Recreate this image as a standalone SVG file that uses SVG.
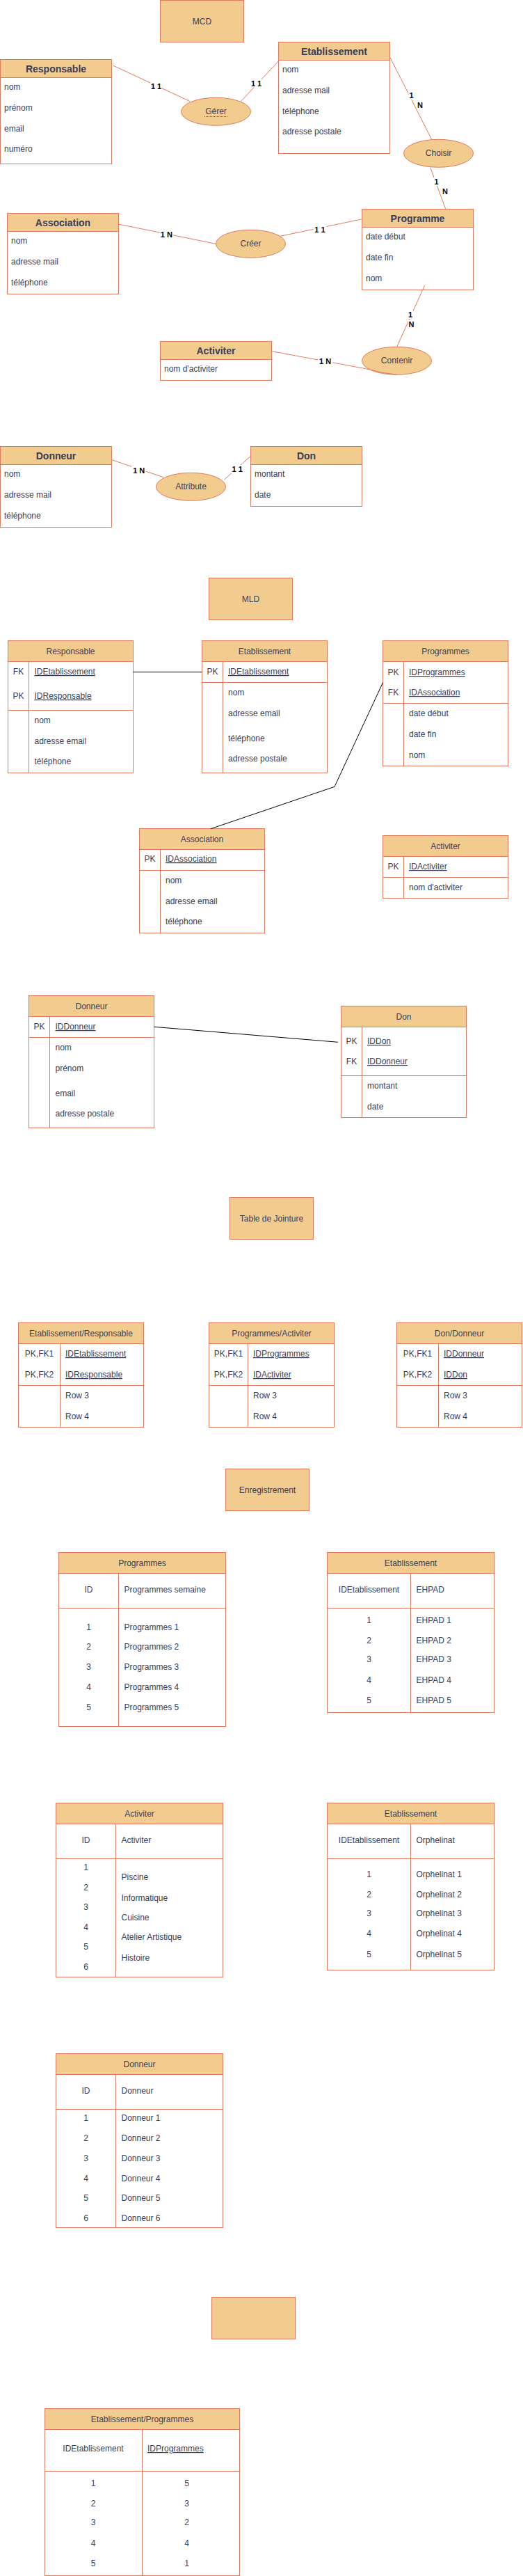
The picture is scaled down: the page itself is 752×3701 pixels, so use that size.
<svg xmlns="http://www.w3.org/2000/svg" width="752" height="3701" viewBox="0 0 752 3701">
<style>
text{font-family:"Liberation Sans",Arial,Helvetica,sans-serif;font-size:12px;fill:#393C56}
.hd{fill:#F2CC8F;stroke:#E07A5F;stroke-width:1}
.bd{fill:#FFFFFF;stroke:#E07A5F;stroke-width:1}
.ln{fill:none;stroke:#E07A5F;stroke-width:1}
.el{fill:#F2CC8F;stroke:#E07A5F;stroke-width:1}
.t14{font-size:14px;font-weight:bold}
.c{text-anchor:middle}
.u{text-decoration:underline}
.edge{fill:none;stroke:#E07A5F;stroke-width:1}
.blk{fill:none;stroke:#000000;stroke-width:1}
.lbg{fill:#FFFFFF}
.lb{font-size:11px;font-weight:bold;fill:#000000;text-anchor:middle}
</style>
<rect x="0" y="0" width="752" height="3701" fill="#FFFFFF"/>

<!-- ===== MCD ===== -->
<g id="title-mcd"><rect class="hd" x="230.5" y="0.5" width="120" height="60"/><text class="c" x="290.5" y="35">MCD</text></g>

<g id="mcd-responsable">
<rect class="bd" x="0.5" y="85.5" width="160" height="150"/>
<rect class="hd" x="0.5" y="85.5" width="160" height="26"/>
<text class="t14 c" x="80.5" y="104">Responsable</text>
<text x="6" y="129">nom</text><text x="6" y="159">prénom</text><text x="6" y="189">email</text><text x="6" y="218">numéro</text>
</g>

<g id="mcd-etablissement">
<rect class="bd" x="400.5" y="60.5" width="160" height="160"/>
<rect class="hd" x="400.5" y="60.5" width="160" height="26"/>
<text class="t14 c" x="480.5" y="79">Etablissement</text>
<text x="406" y="104">nom</text><text x="406" y="134">adresse mail</text><text x="406" y="164">téléphone</text><text x="406" y="193">adresse postale</text>
</g>

<g id="mcd-gerer"><ellipse class="el" cx="310.5" cy="160.3" rx="50" ry="20"/><text class="c" x="310.5" y="164">Gérer</text><line x1="294" y1="167.5" x2="327" y2="167.5" stroke="#393C56" stroke-width="0.8" stroke-dasharray="1,1"/></g>
<g id="mcd-choisir"><ellipse class="el" cx="630.5" cy="220.3" rx="50" ry="20"/><text class="c" x="630.5" y="224">Choisir</text></g>

<g id="mcd-programme">
<rect class="bd" x="520.5" y="300.5" width="160" height="116"/>
<rect class="hd" x="520.5" y="300.5" width="160" height="26"/>
<text class="t14 c" x="600.5" y="318.5">Programme</text>
<text x="526" y="344">date début</text><text x="526" y="374">date fin</text><text x="526" y="404">nom</text>
</g>

<g id="mcd-association">
<rect class="bd" x="10.5" y="306.5" width="160" height="116"/>
<rect class="hd" x="10.5" y="306.5" width="160" height="26"/>
<text class="t14 c" x="90.5" y="325">Association</text>
<text x="16" y="350">nom</text><text x="16" y="380">adresse mail</text><text x="16" y="410">téléphone</text>
</g>

<g id="mcd-creer"><ellipse class="el" cx="360.5" cy="350.3" rx="50" ry="20"/><text class="c" x="360.5" y="354">Créer</text></g>
<g id="mcd-contenir"><ellipse class="el" cx="570.5" cy="518.3" rx="50" ry="20"/><text class="c" x="570.5" y="522.3">Contenir</text></g>

<g id="mcd-activiter">
<rect class="bd" x="230.5" y="490.5" width="160" height="56"/>
<rect class="hd" x="230.5" y="490.5" width="160" height="26"/>
<text class="t14 c" x="310.5" y="509">Activiter</text>
<text x="236" y="534">nom d'activiter</text>
</g>

<g id="mcd-donneur">
<rect class="bd" x="0.5" y="641.5" width="160" height="116"/>
<rect class="hd" x="0.5" y="641.5" width="160" height="26"/>
<text class="t14 c" x="80.5" y="660">Donneur</text>
<text x="6" y="685">nom</text><text x="6" y="715">adresse mail</text><text x="6" y="745">téléphone</text>
</g>

<g id="mcd-don">
<rect class="bd" x="360.5" y="641.5" width="160" height="86"/>
<rect class="hd" x="360.5" y="641.5" width="160" height="26"/>
<text class="t14 c" x="440.5" y="660">Don</text>
<text x="366" y="685">montant</text><text x="366" y="715">date</text>
</g>

<g id="mcd-attribute"><ellipse class="el" cx="274.5" cy="699.3" rx="50" ry="20"/><text class="c" x="274.5" y="703">Attribute</text></g>

<!-- ===== MLD ===== -->
<g id="title-mld"><rect class="hd" x="300.5" y="830.5" width="120" height="60"/><text class="c" x="360.5" y="865">MLD</text></g>

<g id="mld-responsable">
<rect class="bd" x="11.5" y="920.5" width="180" height="190"/>
<rect class="hd" x="11.5" y="920.5" width="180" height="30"/>
<line class="ln" x1="11.5" y1="1020.5" x2="191.5" y2="1020.5"/><line class="ln" x1="41.5" y1="950.5" x2="41.5" y2="1110.5"/>
<text class="c" x="101.5" y="939.5">Responsable</text>
<text class="c" x="26.5" y="969">FK</text><text class="u" x="49.5" y="969">IDEtablissement</text>
<text class="c" x="26.5" y="1004">PK</text><text class="u" x="49.5" y="1004">IDResponsable</text>
<text x="49.5" y="1039">nom</text><text x="49.5" y="1069">adresse email</text><text x="49.5" y="1098">téléphone</text>
</g>

<g id="mld-etablissement">
<rect class="bd" x="290.5" y="920.5" width="180" height="190"/>
<rect class="hd" x="290.5" y="920.5" width="180" height="30"/>
<line class="ln" x1="290.5" y1="980.5" x2="470.5" y2="980.5"/><line class="ln" x1="320.5" y1="950.5" x2="320.5" y2="1110.5"/>
<text class="c" x="380.5" y="939.5">Etablissement</text>
<text class="c" x="305.5" y="969">PK</text><text class="u" x="328" y="969">IDEtablissement</text>
<text x="328" y="999">nom</text><text x="328" y="1029">adresse email</text><text x="328" y="1065">téléphone</text><text x="328" y="1094">adresse postale</text>
</g>

<g id="mld-programmes">
<rect class="bd" x="550.5" y="920.5" width="180" height="180"/>
<rect class="hd" x="550.5" y="920.5" width="180" height="30"/>
<line class="ln" x1="550.5" y1="1010.5" x2="730.5" y2="1010.5"/><line class="ln" x1="580.5" y1="950.5" x2="580.5" y2="1100.5"/>
<text class="c" x="640.5" y="939.5">Programmes</text>
<text class="c" x="565.5" y="970">PK</text><text class="u" x="588" y="970">IDProgrammes</text>
<text class="c" x="565.5" y="999">FK</text><text class="u" x="588" y="999">IDAssociation</text>
<text x="588" y="1029">date début</text><text x="588" y="1059">date fin</text><text x="588" y="1089">nom</text>
</g>

<g id="mld-association">
<rect class="bd" x="200.5" y="1190.5" width="180" height="150"/>
<rect class="hd" x="200.5" y="1190.5" width="180" height="30"/>
<line class="ln" x1="200.5" y1="1250.5" x2="380.5" y2="1250.5"/><line class="ln" x1="230.5" y1="1220.5" x2="230.5" y2="1340.5"/>
<text class="c" x="290.5" y="1209.5">Association</text>
<text class="c" x="215.5" y="1238">PK</text><text class="u" x="238" y="1238">IDAssociation</text>
<text x="238" y="1269">nom</text><text x="238" y="1299">adresse email</text><text x="238" y="1328">téléphone</text>
</g>

<g id="mld-activiter">
<rect class="bd" x="550.5" y="1200.5" width="180" height="90"/>
<rect class="hd" x="550.5" y="1200.5" width="180" height="30"/>
<line class="ln" x1="550.5" y1="1260.5" x2="730.5" y2="1260.5"/><line class="ln" x1="580.5" y1="1230.5" x2="580.5" y2="1290.5"/>
<text class="c" x="640.5" y="1219.5">Activiter</text>
<text class="c" x="565.5" y="1249">PK</text><text class="u" x="588" y="1249">IDActiviter</text>
<text x="588" y="1279">nom d'activiter</text>
</g>

<g id="mld-donneur">
<rect class="bd" x="41.5" y="1430.5" width="180" height="190"/>
<rect class="hd" x="41.5" y="1430.5" width="180" height="30"/>
<line class="ln" x1="41.5" y1="1490.5" x2="221.5" y2="1490.5"/><line class="ln" x1="71.5" y1="1460.5" x2="71.5" y2="1620.5"/>
<text class="c" x="131.5" y="1449.5">Donneur</text>
<text class="c" x="56.5" y="1479">PK</text><text class="u" x="79.5" y="1479">IDDonneur</text>
<text x="79.5" y="1509">nom</text><text x="79.5" y="1539">prénom</text><text x="79.5" y="1575">email</text><text x="79.5" y="1604">adresse postale</text>
</g>

<g id="mld-don">
<rect class="bd" x="490.5" y="1445.5" width="180" height="160"/>
<rect class="hd" x="490.5" y="1445.5" width="180" height="30"/>
<line class="ln" x1="490.5" y1="1545.5" x2="670.5" y2="1545.5"/><line class="ln" x1="520.5" y1="1475.5" x2="520.5" y2="1605.5"/>
<text class="c" x="580.5" y="1464.5">Don</text>
<text class="c" x="505.5" y="1500">PK</text><text class="u" x="528" y="1500">IDDon</text>
<text class="c" x="505.5" y="1529">FK</text><text class="u" x="528" y="1529">IDDonneur</text>
<text x="528" y="1564">montant</text><text x="528" y="1594">date</text>
</g>

<!-- ===== Tables de jointure ===== -->
<g id="title-jointure"><rect class="hd" x="330.5" y="1720.5" width="120" height="60"/><text class="c" x="390.5" y="1755">Table de Jointure</text></g>

<g id="jt-etab-resp">
<rect class="bd" x="26.5" y="1900.5" width="180" height="150"/>
<rect class="hd" x="26.5" y="1900.5" width="180" height="30"/>
<line class="ln" x1="26.5" y1="1990.5" x2="206.5" y2="1990.5"/><line class="ln" x1="86.5" y1="1930.5" x2="86.5" y2="2050.5"/>
<text class="c" x="116.5" y="1919.5">Etablissement/Responsable</text>
<text class="c" x="56.5" y="1949">PK,FK1</text><text class="u" x="94" y="1949">IDEtablissement</text>
<text class="c" x="56.5" y="1979">PK,FK2</text><text class="u" x="94" y="1979">IDResponsable</text>
<text x="94" y="2009">Row 3</text><text x="94" y="2039">Row 4</text>
</g>

<g id="jt-prog-act">
<rect class="bd" x="300.5" y="1900.5" width="180" height="150"/>
<rect class="hd" x="300.5" y="1900.5" width="180" height="30"/>
<line class="ln" x1="300.5" y1="1990.5" x2="480.5" y2="1990.5"/><line class="ln" x1="356.5" y1="1930.5" x2="356.5" y2="2050.5"/>
<text class="c" x="390.5" y="1919.5">Programmes/Activiter</text>
<text class="c" x="328.5" y="1949">PK,FK1</text><text class="u" x="364" y="1949">IDProgrammes</text>
<text class="c" x="328.5" y="1979">PK,FK2</text><text class="u" x="364" y="1979">IDActiviter</text>
<text x="364" y="2009">Row 3</text><text x="364" y="2039">Row 4</text>
</g>

<g id="jt-don-donneur">
<rect class="bd" x="570.5" y="1900.5" width="180" height="150"/>
<rect class="hd" x="570.5" y="1900.5" width="180" height="30"/>
<line class="ln" x1="570.5" y1="1990.5" x2="750.5" y2="1990.5"/><line class="ln" x1="630.5" y1="1930.5" x2="630.5" y2="2050.5"/>
<text class="c" x="660.5" y="1919.5">Don/Donneur</text>
<text class="c" x="600.5" y="1949">PK,FK1</text><text class="u" x="638" y="1949">IDDonneur</text>
<text class="c" x="600.5" y="1979">PK,FK2</text><text class="u" x="638" y="1979">IDDon</text>
<text x="638" y="2009">Row 3</text><text x="638" y="2039">Row 4</text>
</g>

<!-- ===== Enregistrement ===== -->
<g id="title-enregistrement"><rect class="hd" x="324.5" y="2110.5" width="120" height="60"/><text class="c" x="384.5" y="2145">Enregistrement</text></g>

<g id="data-programmes">
<rect class="bd" x="84.5" y="2230.5" width="240" height="250"/>
<rect class="hd" x="84.5" y="2230.5" width="240" height="30"/>
<line class="ln" x1="84.5" y1="2310.5" x2="324.5" y2="2310.5"/><line class="ln" x1="170.5" y1="2260.5" x2="170.5" y2="2480.5"/>
<text class="c" x="204.5" y="2249.5">Programmes</text>
<text class="c" x="127.5" y="2288">ID</text><text x="178.5" y="2288">Programmes semaine</text>
<text class="c" x="127.5" y="2342">1</text><text x="178.5" y="2342">Programmes 1</text>
<text class="c" x="127.5" y="2370">2</text><text x="178.5" y="2370">Programmes 2</text>
<text class="c" x="127.5" y="2399">3</text><text x="178.5" y="2399">Programmes 3</text>
<text class="c" x="127.5" y="2428">4</text><text x="178.5" y="2428">Programmes 4</text>
<text class="c" x="127.5" y="2457">5</text><text x="178.5" y="2457">Programmes 5</text>
</g>

<g id="data-etab-ehpad">
<rect class="bd" x="470.5" y="2230.5" width="240" height="230"/>
<rect class="hd" x="470.5" y="2230.5" width="240" height="30"/>
<line class="ln" x1="470.5" y1="2310.5" x2="710.5" y2="2310.5"/><line class="ln" x1="590.5" y1="2260.5" x2="590.5" y2="2460.5"/>
<text class="c" x="590.5" y="2249.5">Etablissement</text>
<text class="c" x="530.5" y="2288">IDEtablissement</text><text x="598.5" y="2288">EHPAD</text>
<text class="c" x="530.5" y="2332">1</text><text x="598.5" y="2332">EHPAD 1</text>
<text class="c" x="530.5" y="2361">2</text><text x="598.5" y="2361">EHPAD 2</text>
<text class="c" x="530.5" y="2388">3</text><text x="598.5" y="2388">EHPAD 3</text>
<text class="c" x="530.5" y="2418">4</text><text x="598.5" y="2418">EHPAD 4</text>
<text class="c" x="530.5" y="2447">5</text><text x="598.5" y="2447">EHPAD 5</text>
</g>

<g id="data-activiter">
<rect class="bd" x="80.5" y="2590.5" width="240" height="250"/>
<rect class="hd" x="80.5" y="2590.5" width="240" height="30"/>
<line class="ln" x1="80.5" y1="2670.5" x2="320.5" y2="2670.5"/><line class="ln" x1="166.5" y1="2620.5" x2="166.5" y2="2840.5"/>
<text class="c" x="200.5" y="2609.5">Activiter</text>
<text class="c" x="123.5" y="2648">ID</text><text x="174.5" y="2648">Activiter</text>
<text class="c" x="123.5" y="2687">1</text><text class="c" x="123.5" y="2716">2</text><text class="c" x="123.5" y="2744">3</text>
<text class="c" x="123.5" y="2773">4</text><text class="c" x="123.5" y="2801">5</text><text class="c" x="123.5" y="2830">6</text>
<text x="174.5" y="2701">Piscine</text><text x="174.5" y="2731">Informatique</text><text x="174.5" y="2759">Cuisine</text>
<text x="174.5" y="2787">Atelier Artistique</text><text x="174.5" y="2817">Histoire</text>
</g>

<g id="data-etab-orphelinat">
<rect class="bd" x="470.5" y="2590.5" width="240" height="240"/>
<rect class="hd" x="470.5" y="2590.5" width="240" height="30"/>
<line class="ln" x1="470.5" y1="2670.5" x2="710.5" y2="2670.5"/><line class="ln" x1="590.5" y1="2620.5" x2="590.5" y2="2830.5"/>
<text class="c" x="590.5" y="2609.5">Etablissement</text>
<text class="c" x="530.5" y="2648">IDEtablissement</text><text x="598.5" y="2648">Orphelinat</text>
<text class="c" x="530.5" y="2697">1</text><text x="598.5" y="2697">Orphelinat 1</text>
<text class="c" x="530.5" y="2726">2</text><text x="598.5" y="2726">Orphelinat 2</text>
<text class="c" x="530.5" y="2753">3</text><text x="598.5" y="2753">Orphelinat 3</text>
<text class="c" x="530.5" y="2782">4</text><text x="598.5" y="2782">Orphelinat 4</text>
<text class="c" x="530.5" y="2812">5</text><text x="598.5" y="2812">Orphelinat 5</text>
</g>

<g id="data-donneur">
<rect class="bd" x="80.5" y="2950.5" width="240" height="250"/>
<rect class="hd" x="80.5" y="2950.5" width="240" height="30"/>
<line class="ln" x1="80.5" y1="3030.5" x2="320.5" y2="3030.5"/><line class="ln" x1="166.5" y1="2980.5" x2="166.5" y2="3200.5"/>
<text class="c" x="200.5" y="2969.5">Donneur</text>
<text class="c" x="123.5" y="3008">ID</text><text x="174.5" y="3008">Donneur</text>
<text class="c" x="123.5" y="3047">1</text><text x="174.5" y="3047">Donneur 1</text>
<text class="c" x="123.5" y="3076">2</text><text x="174.5" y="3076">Donneur 2</text>
<text class="c" x="123.5" y="3105">3</text><text x="174.5" y="3105">Donneur 3</text>
<text class="c" x="123.5" y="3134">4</text><text x="174.5" y="3134">Donneur 4</text>
<text class="c" x="123.5" y="3162">5</text><text x="174.5" y="3162">Donneur 5</text>
<text class="c" x="123.5" y="3191">6</text><text x="174.5" y="3191">Donneur 6</text>
</g>

<g id="blank-box"><rect class="hd" x="304.5" y="3300.5" width="120" height="60"/></g>

<g id="data-etab-prog">
<rect class="bd" x="64.5" y="3460.5" width="280" height="240"/>
<rect class="hd" x="64.5" y="3460.5" width="280" height="30"/>
<line class="ln" x1="64.5" y1="3550.5" x2="344.5" y2="3550.5"/><line class="ln" x1="204.5" y1="3490.5" x2="204.5" y2="3700.5"/>
<text class="c" x="204.5" y="3479.5">Etablissement/Programmes</text>
<text class="c" x="134" y="3522">IDEtablissement</text><text class="u" x="212" y="3522">IDProgrammes</text>
<text class="c" x="134" y="3572">1</text><text class="c" x="268.5" y="3572">5</text>
<text class="c" x="134" y="3601">2</text><text class="c" x="268.5" y="3601">3</text>
<text class="c" x="134" y="3628">3</text><text class="c" x="268.5" y="3628">2</text>
<text class="c" x="134" y="3658">4</text><text class="c" x="268.5" y="3658">4</text>
<text class="c" x="134" y="3687">5</text><text class="c" x="268.5" y="3687">1</text>
</g>

<!-- ===== Connectors ===== -->
<g id="connectors">
<line class="edge" x1="163" y1="94.3" x2="273.4" y2="145.7"/>
<line class="edge" x1="346.3" y1="145.7" x2="400.5" y2="87.7"/>
<line class="edge" x1="561" y1="82.7" x2="621" y2="201"/>
<line class="edge" x1="618.7" y1="240.7" x2="640.8" y2="300.5"/>
<line class="edge" x1="171.2" y1="322.3" x2="310.3" y2="350.3"/>
<line class="edge" x1="402.9" y1="339.3" x2="519.4" y2="315"/>
<line class="edge" x1="610.6" y1="410" x2="570.7" y2="498.3"/>
<path class="edge" d="M390.9 504.7 L527 530 Q548 536 570.7 538.3"/>
<line class="edge" x1="160.7" y1="660.7" x2="235" y2="685.7"/>
<line class="edge" x1="322.3" y1="689.3" x2="360.7" y2="655"/>
<line class="blk" x1="191.5" y1="965.5" x2="290.5" y2="965.5"/>
<polyline class="blk" points="550.5,980.7 481,1130.3 303.1,1190.7"/>
<line class="blk" x1="221.5" y1="1475.3" x2="485.9" y2="1497.3"/>

<rect class="lbg" x="216.5" y="118" width="16" height="12"/><text class="lb" x="224.6" y="128">1 1</text>
<rect class="lbg" x="360.5" y="114" width="16" height="12"/><text class="lb" x="368.6" y="124">1 1</text>
<rect class="lbg" x="587.5" y="131" width="8" height="12"/><text class="lb" x="591.5" y="140.7">1</text>
<rect class="lbg" x="599.5" y="145" width="9" height="12"/><text class="lb" x="604" y="155">N</text>
<rect class="lbg" x="623.5" y="255" width="8" height="12"/><text class="lb" x="627.5" y="265">1</text>
<rect class="lbg" x="635.5" y="269" width="9" height="12"/><text class="lb" x="640" y="279">N</text>
<rect class="lbg" x="230.5" y="331" width="18" height="12"/><text class="lb" x="239.3" y="341">1 N</text>
<rect class="lbg" x="450.5" y="324.5" width="19" height="12"/><text class="lb" x="460" y="334.3">1 1</text>
<rect class="lbg" x="586" y="446" width="8" height="12"/><text class="lb" x="590" y="456">1</text>
<rect class="lbg" x="587" y="460" width="9" height="12"/><text class="lb" x="591.5" y="470">N</text>
<rect class="lbg" x="457" y="513" width="21" height="12"/><text class="lb" x="467.6" y="523">1 N</text>
<rect class="lbg" x="189" y="670" width="21" height="12"/><text class="lb" x="199.7" y="680">1 N</text>
<rect class="lbg" x="332" y="668" width="18.5" height="12"/><text class="lb" x="341.2" y="678">1 1</text>
</g>
</svg>
